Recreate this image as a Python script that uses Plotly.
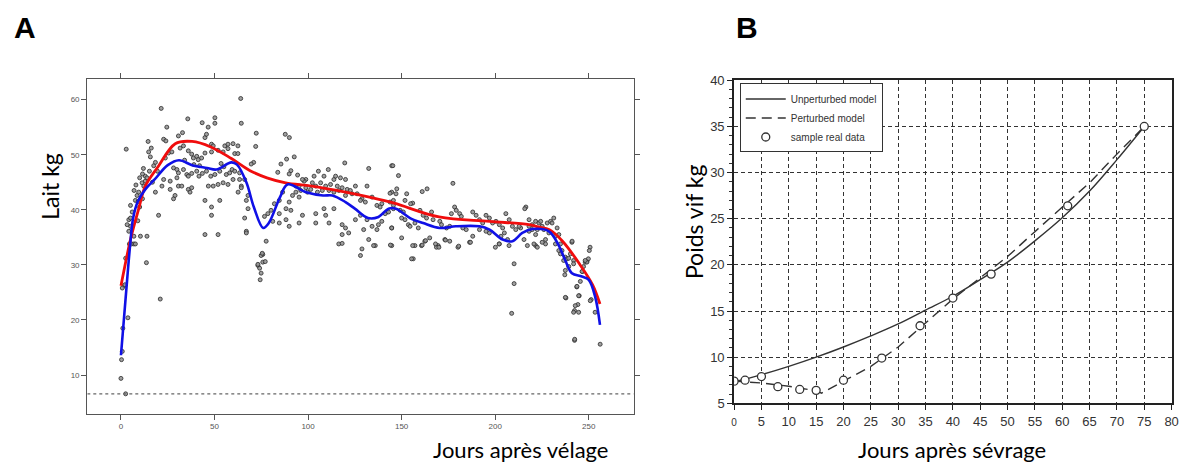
import plotly.graph_objects as go

# ---- Panel A : lait (kg) vs jours après vélage ----
traite_debut = [
    (0, 9.4), (0.3, 12.8), (0.7, 14.3), (1.0, 18.5), (3.7, 20.4), (2.5, 6.6), (1.7, 26.2), (2.5, 31.2),
    (4.5, 33.8), (5.7, 33.8), (21, 23.8), (2.8, 51.0), (0.7, 25.8), (2.1, 26.4), (8.6, 42.6), (9.5, 43.2),
    (11.3, 44.9), (12.2, 44.3), (13, 45.2), (5.1, 40.8), (6, 39.6), (7.7, 41.7), (4.2, 38.2), (5.1, 37.0),
    (4.2, 36.1), (6.9, 33.8), (7.7, 33.8), (10.4, 35.2), (13.9, 35.2), (13.6, 30.4), (20.1, 39.0), (6.9, 35.2),
    (5.1, 38.5), (3.3, 37.3), (14.5, 52.4), (21.5, 58.4), (24.5, 55.0), (22.8, 52.8), (24, 52.5), (14.8, 50.5),
    (15.7, 49.6), (23.7, 49.4), (25.4, 50.3), (27.2, 50.5), (13, 46.1), (13.9, 45.8), (15.2, 47.0), (17.5, 48.0),
    (18.4, 48.6), (28.1, 47.6), (29.9, 47.3), (22.8, 45.5), (26.3, 45.2), (29.9, 45.8), (18.4, 43.2), (21.9, 44.3),
    (26.3, 43.7), (28.1, 42.0), (28.9, 42.6), (16.2, 51.2), (10.0, 40.5), (11.5, 42.0), (9.0, 38.0), (16.8, 45.0),
    (19.5, 47.0), (7, 43.5), (8, 44.5), (10, 45.8), (11.5, 46.5), (9.2, 41.5), (12, 47.5),
]
traite_pic = [
    (30.7, 53.4), (32.9, 54.0), (35.7, 56.5), (43.4, 55.8), (50.2, 56.7), (50.2, 55.7), (64, 60.2), (64.3, 55.7),
    (44.9, 53.1), (45.7, 53.7), (46.6, 55.0), (48.4, 51.9), (49.3, 51.6), (55.5, 51.6), (57.2, 51.9), (59.9, 52.0),
    (62.5, 51.6), (31.6, 51.2), (33.4, 51.6), (36, 50.7), (37.8, 50.1), (38.7, 49.4), (40.5, 49.7), (41.3, 49.1),
    (43.1, 49.4), (44.9, 50.3), (48.4, 50.5), (51.9, 50.8), (54.6, 50.5), (57.2, 51.1), (60.8, 50.2), (62.5, 50.2),
    (30.7, 46.7), (33.4, 47.3), (35.2, 46.4), (37.8, 46.6), (40.5, 47.0), (41.7, 46.1), (43.5, 46.6), (45.7, 47.0),
    (48, 46.1), (50.2, 46.4), (52.8, 47.0), (56.3, 46.4), (58.1, 46.7), (59.4, 47.3), (60.8, 47.0), (63.4, 46.7),
    (30.7, 44.3), (36, 43.7), (36.9, 43.2), (37.8, 44.0), (46.7, 44.3), (49.3, 44.3), (51.9, 44.6), (54.6, 44.9),
    (57.2, 44.6), (59.9, 45.5), (63.4, 45.5), (64.3, 44.3), (67.9, 42.6), (44.9, 41.7), (48.4, 40.5), (48.4, 39.0),
    (44.9, 35.5), (51.9, 35.5), (52.8, 41.7), (67, 36.1), (66.1, 38.5), (67.9, 40.2), (62.6, 43.2), (64.3, 44.0),
    (66.1, 45.5), (32.5, 44.3), (36, 46.1), (39, 48.2), (42, 48.0), (53.5, 48.4), (55, 47.8), (34, 49.0),
    (72.3, 53.9), (87.8, 53.7), (90, 53.1), (72, 51.5), (70.9, 48.6), (69.6, 48.3), (67, 41.7), (67, 35.8),
]
traite_milieu = [
    (85.5, 48.3), (92.6, 49.6), (88.5, 49.2), (83.8, 46.8), (90.8, 47.1), (89.9, 46.5), (94.4, 46.3), (105.5, 47.0),
    (110.8, 47.3), (119.6, 48.5), (132.4, 47.5), (144.7, 48.0), (103.2, 46.1), (108.5, 46.1), (113.8, 45.5),
    (114.7, 46.1), (117.3, 45.8), (120, 45.5), (125.3, 44.3), (131.5, 44.3), (102.3, 44.9), (98.8, 45.5),
    (97.9, 45.2), (95.2, 44.3), (96.1, 43.5), (93.5, 43.2), (91.7, 42.6), (99.7, 43.2), (105, 43.2), (107.6, 43.5),
    (111.2, 43.5), (113.8, 43.2), (116.4, 43.5), (120, 42.6), (123.5, 42.9), (128.8, 42.0), (134.2, 42.3),
    (139.4, 41.1), (142.1, 39.6), (144.7, 43.2), (141.2, 39.3), (145.6, 40.2), (86.4, 43.2), (84.6, 41.7),
    (82, 41.1), (80.2, 39.9), (78.5, 39.3), (76.7, 38.8), (84.6, 39.3), (88.2, 40.2), (89.9, 41.4), (89.9, 37.0),
    (88.2, 38.2), (84.6, 37.6), (81.1, 37.9), (104.1, 39.3), (109.4, 39.0), (113.8, 40.2), (108.5, 40.2),
    (104.1, 37.6), (111.2, 37.6), (118.2, 37.3), (120, 36.7), (121.7, 35.8), (125.3, 38.2), (128, 39.0),
    (131.5, 38.2), (134.2, 37.0), (129.7, 36.4), (136.8, 36.4), (137.6, 37.3), (139.4, 37.9), (132.4, 34.6),
    (135.9, 33.5), (128, 31.7), (128.8, 32.9), (144.7, 33.5), (144.7, 36.7), (116.4, 33.8), (118.2, 35.5),
    (97, 39.0), (95.2, 37.6), (90.8, 39.9), (77.6, 34.3), (75.8, 31.9), (74.9, 31.7), (73.2, 29.9), (74.1, 29.4),
    (74.9, 28.5), (74.4, 27.3), (75.8, 30.5), (75.5, 32.1), (77.1, 30.6), (73.2, 30.1), (118.2, 33.9), (135, 33.5),
    (144, 33.6), (93.5, 44.3), (95.2, 42.3), (97, 45.5), (98.8, 44.0), (101.4, 43.7), (104.1, 44.3), (106.7, 44.9),
    (109.4, 44.3), (112, 44.6), (115.6, 44.3), (118.2, 44.0), (120.9, 43.7), (122.6, 43.5), (126.2, 42.9),
    (128, 41.7), (130.6, 41.4), (136.8, 40.8), (138.5, 40.5), (143, 39.6), (145.6, 41.7),
]
traite_fin = [
    (145.3, 48.0), (148.3, 46.2), (177.4, 44.8), (161, 43.3), (163.6, 43.8), (147.4, 43.8), (147, 42.9),
    (143.8, 43.0), (152.7, 42.9), (155.9, 41.2), (154.8, 41.1), (151.8, 41.7), (143.8, 41.4), (145.6, 40.8),
    (149.2, 39.9), (150.9, 39.6), (150, 38.5), (151.8, 38.2), (153.6, 37.3), (154.5, 37.0), (157.1, 37.6),
    (158.9, 36.7), (159.8, 39.9), (161.5, 39.0), (163.3, 38.5), (166, 39.6), (166.8, 38.2), (170.4, 37.9),
    (171.3, 37.3), (174, 36.7), (175.7, 37.0), (176.6, 39.3), (178.3, 40.5), (179.2, 39.9), (181, 39.3),
    (181.9, 38.8), (182.7, 36.7), (184.5, 36.4), (188, 39.6), (189.8, 39.0), (191.6, 38.2), (193.3, 37.6),
    (195.1, 39.0), (196.9, 38.5), (198.6, 37.6), (200.4, 37.9), (202.2, 37.3), (204, 36.7), (205.7, 39.3),
    (207.5, 38.2), (209.2, 37.0), (211, 36.4), (213.6, 36.7), (216.4, 40.5), (218.1, 38.2), (219.8, 37.3),
    (221.6, 37.9), (222.5, 36.4), (218.1, 36.1), (215.4, 34.6), (212.8, 37.0), (206.6, 34.6), (204.9, 35.8),
    (203.1, 35.2), (202.2, 33.8), (200.1, 33.2), (196.9, 35.8), (195.1, 36.1), (191.6, 36.4), (188, 35.2),
    (186.3, 34.1), (180.1, 33.2), (175.7, 34.3), (173.1, 34.6), (169.5, 33.5), (168.6, 33.2), (165, 34.9),
    (162.4, 34.3), (160.6, 33.5), (157.1, 33.5), (156.2, 31.1), (150, 34.9), (144.7, 36.7), (210.1, 30.2),
    (210.1, 26.6), (221.6, 33.5), (217.2, 33.5), (155.9, 33.5), (155.3, 31.1), (162.8, 34.4), (180.5, 33.4),
    (186.8, 34.1), (202.1, 33.8), (207.4, 33.5), (208.8, 21.2), (226.9, 33.8), (232.2, 33.8), (234, 32.6),
    (237.5, 29.0), (237.8, 24.0), (241, 34.1), (241.9, 30.8), (243.6, 26.0), (244.9, 24.4), (242.4, 21.7),
    (244.2, 22.8), (242.4, 16.3), (246.7, 28.8), (248.1, 30.5), (250.7, 33.2), (251.3, 23.7), (253.4, 21.4),
    (256.1, 15.6), (249, 30.6), (249.8, 31.1), (218.1, 37.0), (219.8, 36.4), (221.6, 35.5), (222.5, 33.2),
    (223.4, 37.6), (224.3, 37.9), (225.1, 37.0), (226, 36.4), (226.9, 34.6), (227.8, 37.6), (228.7, 35.8),
    (229.6, 37.9), (230.4, 37.6), (231.3, 38.5), (232.2, 35.2), (233.1, 36.7), (234, 35.5), (234.9, 33.8),
    (234.9, 32.0), (235.7, 32.6), (236.6, 30.8), (237.5, 31.4), (238.4, 31.1), (239.3, 31.2), (240.2, 32.0),
    (241.1, 34.3), (241.9, 30.2), (247.2, 29.7), (249, 30.5), (248.1, 30.8), (250.3, 32.6), (246.4, 28.8),
    (245.5, 27.0), (243.7, 26.1), (244.6, 24.4), (237.5, 24.1), (242.8, 22.6), (241.9, 21.4), (244.6, 21.4),
    (250.8, 23.5), (242.5, 16.5), (237.2, 28.2), (239.3, 29.7), (225.1, 34.1), (220.7, 33.8), (215.8, 40.2),
    (161, 33.6), (168.1, 33.8), (169.9, 33.2), (173.4, 34.5),
]

rouge_jours = [0, 5.3, 9.5, 13, 20, 29, 38, 48, 59, 69, 78, 88, 102, 120, 134, 146, 170, 197, 218, 223, 229,
               236, 245, 252, 256]
rouge_kg = [26.2, 34.9, 40.2, 44.3, 47.9, 52.0, 52.4, 51.4, 49.3, 47.1, 45.8, 44.9, 44.3, 43.2, 42.2, 41.2,
            38.7, 37.9, 37.3, 36.9, 36.4, 34.3, 30.2, 26.4, 22.9]

bleu_jours = [0, 2.5, 5, 6.5, 9, 13, 18, 25, 31, 38, 46, 51, 59, 62, 67, 71, 76, 79, 85, 89, 99, 108, 113, 120,
              125, 132, 137.6, 143, 147, 154.5, 161.5, 170.4, 179, 191.6, 197, 204, 209.2, 214.5, 219.8, 228.7,
              234, 237.5, 241, 246.3, 250, 253.5, 256]
bleu_kg = [13.6, 24.0, 34.0, 38.5, 41.5, 43.7, 45.5, 48.1, 49.0, 48.1, 47.6, 47.3, 48.6, 48.2, 45.0, 40.5, 36.7,
           37.6, 42.3, 44.6, 43.2, 42.6, 42.6, 41.4, 40.2, 38.5, 38.7, 40.2, 40.2, 38.5, 37.6, 36.7, 37.0, 37.0,
           36.4, 34.6, 34.3, 35.8, 36.5, 36.1, 33.5, 30.8, 28.5, 27.9, 27.3, 24.1, 19.1]

seuil_kg = 6.6

# ---- Panel B : poids vif (kg) vs jours après sévrage ----
reel_jours = [0, 2, 5, 8, 12, 15, 20, 27, 34, 40, 47, 61, 75]
reel_poids = [7.4, 7.5, 7.9, 6.8, 6.5, 6.4, 7.5, 9.9, 13.4, 16.4, 19.0, 26.4, 35.0]

nonpert_jours = [0, 5, 10, 15, 20, 25, 30, 35, 40, 45, 50, 55, 60, 65, 70, 75]
nonpert_poids = [7.3, 8.1, 9.0, 10.0, 11.1, 12.3, 13.6, 15.1, 16.6, 18.4, 20.3, 22.6, 25.1, 28.0, 31.4, 35.0]

pert_jours = [0, 5, 10, 15, 16, 20, 25, 30, 35, 40, 45, 50, 55, 60, 65, 70, 75]
pert_poids = [7.4, 7.2, 6.85, 6.35, 6.1, 7.4, 9.0, 11.1, 13.7, 16.3, 18.6, 20.9, 23.6, 26.2, 28.9, 32.0, 35.0]

W, H = 1191, 472

points = traite_debut + traite_pic + traite_milieu + traite_fin
fig = go.Figure()

fig.add_trace(go.Scatter(
    x=[p[0] for p in points], y=[p[1] for p in points], mode="markers",
    marker=dict(symbol="circle", size=4, color="rgba(150,150,150,0.9)", line=dict(color="#2a2a2a", width=0.8)),
    showlegend=False, xaxis="x", yaxis="y"))
fig.add_trace(go.Scatter(
    x=[-18, 274], y=[seuil_kg, seuil_kg], mode="lines",
    line=dict(color="#666", width=1.2, dash="3px,3px"), showlegend=False, xaxis="x", yaxis="y"))
fig.add_trace(go.Scatter(
    x=rouge_jours, y=rouge_kg, mode="lines", line=dict(color="#f00d0d", width=2.8, shape="spline"),
    showlegend=False, xaxis="x", yaxis="y"))
fig.add_trace(go.Scatter(
    x=bleu_jours, y=bleu_kg, mode="lines", line=dict(color="#1010e6", width=2.6, shape="spline"),
    showlegend=False, xaxis="x", yaxis="y"))

fig.add_trace(go.Scatter(
    x=nonpert_jours, y=nonpert_poids, mode="lines", name="Unperturbed model",
    line=dict(color="#333", width=1.4, shape="spline"), xaxis="x2", yaxis="y2"))
fig.add_trace(go.Scatter(
    x=pert_jours, y=pert_poids, mode="lines", name="Perturbed model",
    line=dict(color="#333", width=1.4, dash="10px,6px"), xaxis="x2", yaxis="y2"))
fig.add_trace(go.Scatter(
    x=reel_jours, y=reel_poids, mode="markers", name="sample real data",
    marker=dict(symbol="circle", size=8, color="white", line=dict(color="#333", width=1.3)),
    xaxis="x2", yaxis="y2"))

axA = dict(showline=True, linecolor="#555", linewidth=1.2, mirror="ticks", ticks="outside", ticklen=5,
           tickcolor="#555", tickfont=dict(size=8, color="#555"), showgrid=False, zeroline=False)
axB = dict(showline=True, linecolor="#222", linewidth=1.8, mirror=True, ticks="outside", ticklen=5,
           tickcolor="#222", tickfont=dict(size=13, color="#333", family="Liberation Sans"),
           showgrid=True, gridcolor="#333", gridwidth=1.4, griddash="4px,3px", zeroline=False)

fig.update_layout(
    width=W, height=H, margin=dict(l=0, r=0, t=0, b=0),
    paper_bgcolor="white", plot_bgcolor="white",
    font=dict(family="Liberation Sans", color="#222"),
    xaxis=dict(domain=[85 / W, 636 / W], range=[-18, 274], tickvals=[0, 50, 100, 150, 200, 250],
               anchor="y", **axA),
    yaxis=dict(domain=[1 - 420 / H, 1 - 74 / H], range=[3, 63.8], tickvals=[10, 20, 30, 40, 50, 60],
               anchor="x", **axA),
    xaxis2=dict(domain=[737.3 / W, 1178.5 / W], range=[0, 80], tickvals=list(range(0, 81, 5)),
                ticktext=["<span style='font-size:10px'>0</span>"] + [str(v) for v in range(5, 81, 5)],
                anchor="y2", **axB),
    yaxis2=dict(domain=[1 - 409.3 / H, 1 - 75.7 / H], range=[5, 40], tickvals=list(range(5, 41, 5)),
                minor=dict(dtick=1, ticks="outside", ticklen=3, tickcolor="#333", showgrid=False),
                anchor="x2", **axB),
    legend=dict(x=743 / W, y=1 - 79 / H, xanchor="left", yanchor="top", bgcolor="white",
                bordercolor="#333", borderwidth=1, font=dict(size=10, color="#333", family="Liberation Sans"),
                itemwidth=40, tracegroupgap=0),
)

annots = [
    dict(text="<b>A</b>", x=22.5 / W, y=1 - 21.5 / H, size=30, angle=0, family="Liberation Sans"),
    dict(text="<b>B</b>", x=750 / W, y=1 - 21.5 / H, size=30, angle=0, family="Liberation Sans"),
    dict(text="Lait kg", x=48 / W, y=1 - 185 / H, size=23, angle=-90, family="Lato"),
    dict(text="Jours après vélage", x=522 / W, y=1 - 457 / H, size=22, angle=0, family="Lato"),
    dict(text="Poids vif kg", x=697 / W, y=1 - 222 / H, size=23, angle=-90, family="Lato"),
    dict(text="Jours après sévrage", x=957 / W, y=1 - 457 / H, size=22, angle=0, family="Lato"),
]
for a in annots:
    fig.add_annotation(text=a["text"], x=a["x"], y=a["y"], xref="paper", yref="paper", showarrow=False,
                       textangle=a["angle"], xanchor="center", yanchor="middle",
                       font=dict(size=a["size"], color="black", family=a["family"]))

fig.write_html("out.html", config={"displayModeBar": False},
               post_script="document.body.style.margin='0';")
